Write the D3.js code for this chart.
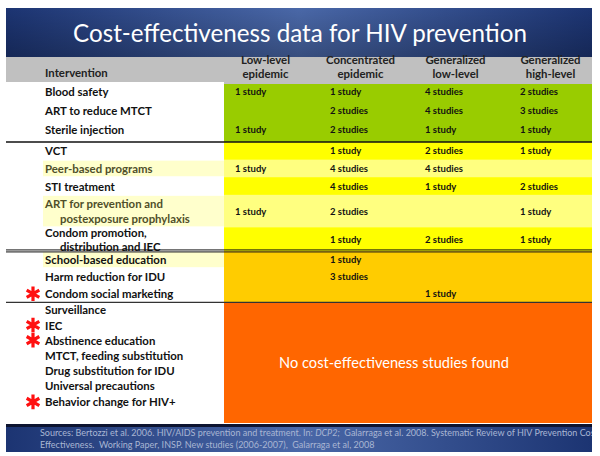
<!DOCTYPE html>
<html><head><meta charset="utf-8">
<script src="https://cdn.jsdelivr.net/npm/d3@7"></script>
<style>
body{margin:0;background:#fff;}
svg{display:block;}
text{font-family:Lato, "Open Sans", sans-serif;}
</style></head>
<body>
<script>
// ---------------- DATA ----------------
const title = "Cost-effectiveness data for HIV prevention";
const columns = [["Low-level","epidemic"],["Concentrated","epidemic"],["Generalized","low-level"],["Generalized","high-level"]];
const interventions = [
  ["Blood safety"],["ART to reduce MTCT"],["Sterile injection"],
  ["VCT"],["Peer-based programs"],["STI treatment"],["ART for prevention and","postexposure prophylaxis"],["Condom promotion,","distribution and IEC"],
  ["School-based education"],["Harm reduction for IDU"],["Condom social marketing"],
  ["Surveillance"],["IEC"],["Abstinence education"],["MTCT, feeding substitution"],["Drug substitution for IDU"],["Universal precautions"],["Behavior change for HIV+"]
];
const groups = ["green","green","green","yellow","yellow","yellow","yellow","yellow","gold","gold","gold","none","none","none","none","none","none","none"];
const lightRows = ["Peer-based programs","ART for prevention and","School-based education"];
const starred = ["Condom social marketing","IEC","Abstinence education","Behavior change for HIV+"];
// number of studies per epidemic type (0 = none)
const lowLevel     = [1,0,1, 0,1,0,1,0, 0,0,0, 0,0,0,0,0,0,0];
const concentrated = [1,2,2, 1,4,4,2,1, 1,3,0, 0,0,0,0,0,0,0];
const genLowLevel  = [4,4,1, 2,4,1,0,2, 0,0,1, 0,0,0,0,0,0,0];
const genHighLevel = [2,3,1, 1,0,2,1,1, 0,0,0, 0,0,0,0,0,0,0];
const noneText = "No cost-effectiveness studies found";
const headerLabel = "Intervention";
const sourcesLines = [
  ["Sources: Bertozzi et al. 2006. HIV/AIDS prevention and treatment. In: ", "DCP2;", "  Galarraga et al. 2008. Systematic Review of HIV Prevention Cost"],
  ["Effectiveness.  Working Paper, INSP. New studies (2006-2007),  Galarraga et al, 2008"]
];

// ---------------- LAYOUT / STYLE ----------------
const W = 600, H = 456;
const colors = {green:"#99CC00", yellow:"#FFFF00", gold:"#FFCC00", none:"#FF6600"};
const lightCell = "#FFFF80", lightLabel = "#FFFFCC";
const labelSize = 11.4, cellSize = 9.5;
const rowWeight = (g, i, lines) => {
  if (g === "green") return 1.1;
  if (g === "yellow") return lines === 2 ? (interventions[i][0].startsWith("ART") ? 1.85 : 1.35) : 1;
  if (g === "gold") return 0.97;
  return i === interventions.length - 1 ? 1.0 : 0.86;
};
const weights = interventions.map((d,i) => rowWeight(groups[i], i, d.length));
const cum = [0]; weights.forEach(w => cum.push(cum[cum.length-1] + w));
const tailSpace = 0.7;
const total = cum[cum.length-1] + tailSpace;

const left = 6, right = 592, blockX = 224;
const y = d3.scaleLinear().domain([0, total]).range([84, 423]);
const x = d3.scaleBand().domain(d3.range(columns.length)).range([218, 598]);

const svg = d3.select("body").append("svg").attr("width", W).attr("height", H);
const defs = svg.append("defs");
const grad = defs.append("linearGradient").attr("id","bannerGrad").attr("x1","0").attr("x2","1").attr("y1","0").attr("y2","0");
[[0,"#1c3472"],[0.5,"#4a68a8"],[1,"#1c3472"]].forEach(([o,c]) => grad.append("stop").attr("offset",o).attr("stop-color",c));
const gradV = defs.append("linearGradient").attr("id","bannerShade").attr("x1","0").attr("x2","0").attr("y1","0").attr("y2","1");
[[0,"#000",0],[1,"#000",0.25]].forEach(([o,c,a]) => gradV.append("stop").attr("offset",o).attr("stop-color",c).attr("stop-opacity",a));
defs.append("clipPath").attr("id","srcClip").append("rect").attr("x",left).attr("y",420).attr("width",right-left).attr("height",36);

// title banner
svg.append("rect").attr("x",left).attr("y",8).attr("width",right-left).attr("height",49).attr("fill","url(#bannerGrad)");
svg.append("rect").attr("x",left).attr("y",8).attr("width",right-left).attr("height",49).attr("fill","url(#bannerShade)");
svg.append("text").attr("x",300).attr("y",42).attr("text-anchor","middle")
  .attr("fill","#fff").attr("font-size",24.2).text(title);

// header
svg.append("rect").attr("x",left).attr("y",57).attr("width",blockX-left).attr("height",25).attr("fill","#C0C0C0");
svg.append("rect").attr("x",blockX).attr("y",57).attr("width",right-blockX).attr("height",27).attr("fill","#C0C0C0");
svg.append("text").attr("x",45).attr("y",77).attr("font-size",labelSize).attr("font-weight","bold").attr("fill","#222").text(headerLabel);
columns.forEach((c,j) => {
  c.forEach((t,k) => svg.append("text").attr("x",x(j)+x.bandwidth()/2).attr("y",64+k*14)
    .attr("text-anchor","middle").attr("font-size",labelSize).attr("font-weight","bold").attr("fill","#222").text(t));
});

// color blocks (section backgrounds)
const sections = ["green","yellow","gold","none"];
sections.forEach(s => {
  const idx = groups.map((g,i)=>g===s?i:-1).filter(i=>i>=0);
  const y0 = y(cum[idx[0]]);
  const y1 = s === "none" ? y(total) : y(cum[idx[idx.length-1]+1]);
  svg.append("rect").attr("x",blockX).attr("y",y0).attr("width",right-blockX).attr("height",y1-y0).attr("fill",colors[s]);
});

// light rows
interventions.forEach((d,i) => {
  if (!lightRows.includes(d[0])) return;
  const y0 = y(cum[i]), y1 = y(cum[i+1]);
  svg.append("rect").attr("x",43).attr("y",y0+1).attr("width",blockX-43).attr("height",y1-y0-2).attr("fill",lightLabel);
  if (groups[i] === "yellow")
    svg.append("rect").attr("x",blockX).attr("y",y0).attr("width",right-blockX).attr("height",y1-y0).attr("fill",lightCell);
});

// labels
interventions.forEach((d,i) => {
  const yc = (y(cum[i]) + y(cum[i+1]))/2;
  const lh = groups[i]==="yellow" && d[0].startsWith("ART") ? 15 : 13.5;
  const muted = groups[i]==="yellow" && lightRows.includes(d[0]);
  const lift = groups[i]==="green" ? 2.5 : 0;
  d.forEach((t,k) => {
    svg.append("text").attr("x", k===0 ? 45 : 60).attr("y", yc - lift + (k - (d.length-1)/2)*lh)
      .attr("dominant-baseline","central").attr("font-size",labelSize).attr("font-weight","bold")
      .attr("fill", muted ? "#4f4f2a" : "#111").text(t);
  });
  if (starred.includes(d[0])) {
    svg.append("path").attr("transform",`translate(33,${yc})`)
      .attr("d", d3.symbol(d3.symbolAsterisk, 150)()).attr("stroke","#FF1010").attr("stroke-width",3.2).attr("fill","none");
  }
});

// cells
const series = [lowLevel, concentrated, genLowLevel, genHighLevel];
const fmt = n => n === 1 ? "1 study" : `${n} studies`;
series.forEach((vals,j) => {
  vals.forEach((v,i) => {
    if (!v) return;
    const lift = groups[i]==="green" ? 2.5 : 0;
    const yc = (y(cum[i]) + y(cum[i+1]))/2 - lift;
    svg.append("text").attr("x", x(j)+17).attr("y", yc).attr("dominant-baseline","central")
      .attr("font-size",cellSize).attr("font-weight","bold").attr("fill","#111").text(fmt(v));
  });
});

// none text
const noneIdx = groups.map((g,i)=>g==="none"?i:-1).filter(i=>i>=0);
svg.append("text").attr("x", (blockX+right)/2 - 14).attr("y", (y(cum[noneIdx[0]]) + y(total))/2)
  .attr("dominant-baseline","central").attr("text-anchor","middle").attr("font-size",14.6).attr("fill","#fff").text(noneText);

// separator lines
const lineAt = (yy, col, w) => svg.append("line").attr("x1",left).attr("x2",right).attr("y1",yy).attr("y2",yy).attr("stroke",col).attr("stroke-width",w);
["yellow","gold","none"].forEach(s => {
  const i0 = groups.indexOf(s);
  const yy = y(cum[i0]);
  if (s === "gold") { lineAt(yy-1.2, "#111", 1); lineAt(yy+0.8, "#111", 1); }
  else if (s === "yellow") lineAt(yy, "#111", 1.6);
  else lineAt(yy, "#333", 1.2);
});

// sources banner
svg.append("rect").attr("x",left).attr("y",424).attr("width",right-left).attr("height",28).attr("fill","url(#bannerGrad)");
svg.append("rect").attr("x",left).attr("y",424).attr("width",right-left).attr("height",3).attr("fill","#0d1430");
const src = svg.append("g").attr("clip-path","url(#srcClip)");
sourcesLines.forEach((parts,k) => {
  const t = src.append("text").attr("x",40).attr("y",436 + k*12).attr("font-size",9).attr("fill","#a9b6d3").attr("xml:space","preserve");
  parts.forEach(p => t.append("tspan").attr("font-style", p==="DCP2;" ? "italic" : "normal").text(p));
});
</script>
</body></html>
